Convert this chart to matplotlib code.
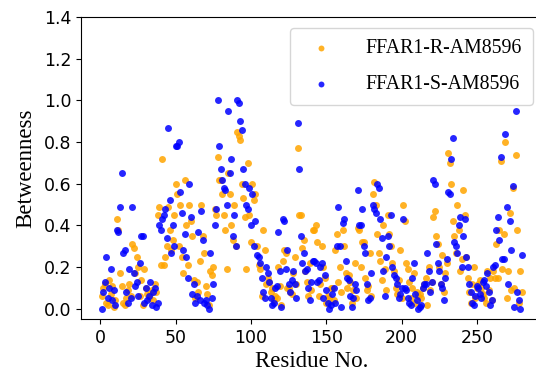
import numpy as np
import matplotlib
matplotlib.use("Agg")
import matplotlib.pyplot as plt

# betweenness per residue (residues 1..280)
betw_R = [
    0.06, 0.10, 0.12, 0.03, 0.02, 0.14, 0.07, 0.11, 0.01, 0.04,
    0.43, 0.38, 0.17, 0.11, 0.03, 0.02, 0.05, 0.09, 0.12, 0.06,
    0.31, 0.29, 0.17, 0.25, 0.20, 0.06, 0.14, 0.02, 0.19, 0.10,
    0.07, 0.05, 0.07, 0.09, 0.04, 0.12, 0.08, 0.45, 0.49, 0.21,
    0.72, 0.21, 0.25, 0.30, 0.49, 0.38, 0.28, 0.33, 0.45, 0.60,
    0.55, 0.30, 0.50, 0.25, 0.17, 0.62, 0.40, 0.21, 0.50, 0.42,
    0.35, 0.14, 0.05, 0.13, 0.08, 0.23, 0.50, 0.35, 0.27, 0.11,
    0.07, 0.02, 0.18, 0.16, 0.20, 0.48, 0.45, 0.73, 0.62, 0.62,
    0.55, 0.45, 0.38, 0.19, 0.65, 0.55, 0.40, 0.33, 0.50, 0.30,
    0.85, 0.83, 0.81, 0.60, 0.53, 0.44, 0.19, 0.70, 0.45, 0.32,
    0.60, 0.52, 0.55, 0.30, 0.21, 0.19, 0.06, 0.38, 0.28, 0.12,
    0.15, 0.13, 0.08, 0.10, 0.04, 0.06, 0.05, 0.20, 0.11, 0.02,
    0.23, 0.28, 0.27, 0.10, 0.10, 0.08, 0.07, 0.17, 0.25, 0.12,
    0.77, 0.45, 0.45, 0.29, 0.33, 0.18, 0.13, 0.06, 0.22, 0.09,
    0.38, 0.38, 0.40, 0.32, 0.06, 0.12, 0.30, 0.20, 0.15, 0.03,
    0.06, 0.05, 0.10, 0.10, 0.04, 0.28, 0.36, 0.13, 0.20, 0.08,
    0.38, 0.30, 0.17, 0.10, 0.16, 0.13, 0.03, 0.09, 0.22, 0.05,
    0.39, 0.38, 0.20, 0.32, 0.32, 0.15, 0.09, 0.11, 0.27, 0.06,
    0.55, 0.61, 0.50, 0.36, 0.27, 0.23, 0.14, 0.40, 0.19, 0.09,
    0.45, 0.36, 0.30, 0.22, 0.18, 0.10, 0.07, 0.14, 0.28, 0.05,
    0.50, 0.42, 0.22, 0.19, 0.13, 0.05, 0.10, 0.17, 0.03, 0.08,
    0.06, 0.07, 0.05, 0.10, 0.12, 0.15, 0.02, 0.20, 0.09, 0.13,
    0.44, 0.47, 0.35, 0.31, 0.20, 0.12, 0.26, 0.08, 0.17, 0.22,
    0.75, 0.70, 0.60, 0.42, 0.35, 0.27, 0.50, 0.38, 0.18, 0.24,
    0.57, 0.45, 0.25, 0.15, 0.08, 0.03, 0.12, 0.20, 0.05, 0.10,
    0.12, 0.14, 0.10, 0.07, 0.05, 0.03, 0.18, 0.09, 0.15, 0.04,
    0.18, 0.15, 0.31, 0.15, 0.38, 0.71, 0.19, 0.36, 0.80, 0.05,
    0.18, 0.46, 0.09, 0.58, 0.10, 0.74, 0.38, 0.03, 0.18, 0.08,
]

betw_S = [
    0.00, 0.08, 0.13, 0.25, 0.05, 0.10, 0.19, 0.04, 0.09, 0.02,
    0.38, 0.37, 0.49, 0.65, 0.27, 0.28, 0.08, 0.03, 0.19, 0.05,
    0.49, 0.17, 0.11, 0.13, 0.06, 0.22, 0.35, 0.35, 0.03, 0.10,
    0.04, 0.06, 0.13, 0.02, 0.08, 0.10, 0.01, 0.03, 0.40, 0.38,
    0.43, 0.45, 0.48, 0.34, 0.87, 0.52, 0.27, 0.40, 0.30, 0.78,
    0.78, 0.80, 0.56, 0.46, 0.28, 0.36, 0.25, 0.15, 0.60, 0.44,
    0.07, 0.12, 0.03, 0.06, 0.37, 0.04, 0.47, 0.33, 0.03, 0.04,
    0.02, 0.00, 0.27, 0.05, 0.12, 0.40, 0.48, 1.00, 0.78, 0.67,
    0.62, 0.58, 0.57, 0.50, 0.95, 0.65, 0.72, 0.35, 0.45, 0.30,
    1.00, 0.99, 0.90, 0.86, 0.67, 0.60, 0.50, 0.48, 0.58, 0.40,
    0.55, 0.30, 0.42, 0.26, 0.25, 0.22, 0.15, 0.08, 0.05, 0.20,
    0.17, 0.13, 0.05, 0.02, 0.03, 0.10, 0.11, 0.37, 0.18, 0.01,
    0.43, 0.42, 0.19, 0.28, 0.12, 0.08, 0.14, 0.18, 0.12, 0.05,
    0.89, 0.67, 0.35, 0.22, 0.27, 0.18, 0.19, 0.10, 0.04, 0.13,
    0.23, 0.23, 0.22, 0.13, 0.14, 0.20, 0.22, 0.05, 0.16, 0.09,
    0.03, 0.00, 0.02, 0.07, 0.10, 0.03, 0.30, 0.49, 0.30, 0.01,
    0.41, 0.43, 0.23, 0.15, 0.14, 0.06, 0.01, 0.05, 0.12, 0.09,
    0.57, 0.40, 0.40, 0.48, 0.30, 0.27, 0.12, 0.04, 0.05, 0.17,
    0.50, 0.48, 0.46, 0.60, 0.58, 0.43, 0.34, 0.18, 0.06, 0.25,
    0.35, 0.30, 0.45, 0.20, 0.16, 0.15, 0.12, 0.05, 0.07, 0.10,
    0.43, 0.10, 0.09, 0.05, 0.03, 0.02, 0.15, 0.22, 0.07, 0.04,
    0.00, 0.01, 0.02, 0.10, 0.12, 0.12, 0.27, 0.18, 0.08, 0.13,
    0.62, 0.60, 0.31, 0.22, 0.18, 0.12, 0.10, 0.04, 0.15, 0.24,
    0.56, 0.55, 0.72, 0.82, 0.32, 0.30, 0.27, 0.40, 0.44, 0.20,
    0.35, 0.43, 0.25, 0.20, 0.12, 0.08, 0.03, 0.02, 0.06, 0.11,
    0.10, 0.07, 0.05, 0.13, 0.14, 0.11, 0.17, 0.08, 0.02, 0.04,
    0.20, 0.21, 0.38, 0.44, 0.33, 0.73, 0.24, 0.24, 0.84, 0.49,
    0.12, 0.42, 0.28, 0.59, 0.01, 0.95, 0.08, 0.04, 0.00, 0.26,
]

residues = np.arange(1, len(betw_R) + 1)
labels = ["FFAR1-R-AM8596", "FFAR1-S-AM8596"]

fig = plt.figure(figsize=(5.36, 3.72), dpi=100)
# the original figure is cropped on the right, so the axes run past the edge
ax = fig.add_axes([0.151, 0.142, 0.862, 0.812])

ax.scatter(residues, betw_R, s=25, color="orange", alpha=0.85,
           linewidths=0, label=labels[0])
ax.scatter(residues, betw_S, s=25, color="blue", alpha=0.85,
           linewidths=0, label=labels[1])

ax.set_ylim(-0.05, 1.4)
ax.set_xticks([0, 50, 100, 150, 200, 250])
ax.set_yticks(np.arange(0, 1.41, 0.2))
ax.tick_params(labelsize=12.5)

serif = "Liberation Serif"
ax.set_xlabel("Residue No.", fontsize=16.5, family=serif, labelpad=3)
ax.set_ylabel("Betweenness", fontsize=16.5, family=serif, labelpad=5)

ax.legend(loc="upper right", bbox_to_anchor=(533 / 536, 344 / 372),
          bbox_transform=fig.transFigure, borderaxespad=0,
          prop={"family": serif, "size": 14.3}, markerscale=0.85,
          labelspacing=0.85, borderpad=0.55, handletextpad=1.25)

fig.savefig("out.png", dpi=100)
